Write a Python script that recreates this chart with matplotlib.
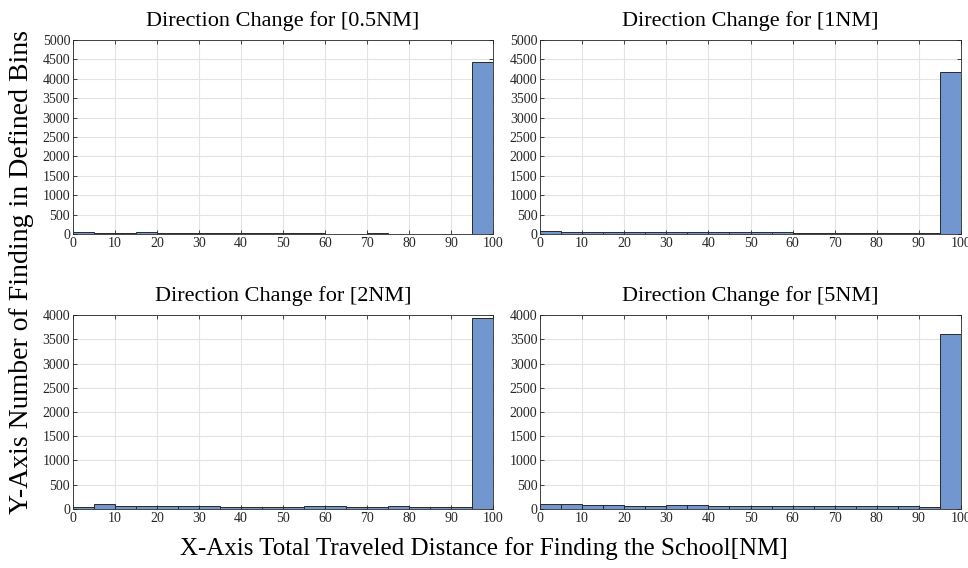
import numpy as np
import matplotlib.pyplot as plt

plt.rcParams['font.family'] = ['Liberation Serif', 'DejaVu Serif']

# histogram bin edges (0..100 NM in 5 NM steps)
edges = np.arange(0, 105, 5)

titles = ['Direction Change for [0.5NM]', 'Direction Change for [1NM]',
          'Direction Change for [2NM]', 'Direction Change for [5NM]']

counts_05 = [50, 30, 25, 45, 30, 20, 20, 20, 25, 25, 20, 15, 10, 10, 15, 10, 10, 10, 10, 4430]
counts_1 = [75, 55, 45, 60, 45, 40, 40, 40, 45, 40, 40, 45, 25, 25, 30, 30, 25, 25, 35, 4180]
counts_2 = [50, 100, 55, 70, 55, 55, 55, 50, 40, 40, 40, 60, 55, 40, 40, 60, 45, 50, 45, 3940]
counts_5 = [100, 95, 80, 80, 70, 65, 80, 75, 65, 65, 65, 65, 65, 65, 65, 65, 65, 65, 50, 3600]

ylims = [5000, 5000, 4000, 4000]

fig = plt.figure(figsize=(9.68, 5.68), dpi=100)
positions = [
    [0.0754, 0.588, 0.4339, 0.3415],
    [0.5579, 0.588, 0.4349, 0.3415],
    [0.0754, 0.1039, 0.4339, 0.3415],
    [0.5579, 0.1039, 0.4349, 0.3415],
]

for pos, title, counts, ymax in zip(positions, titles,
                                     [counts_05, counts_1, counts_2, counts_5], ylims):
    ax = fig.add_axes(pos)
    ax.bar(edges[:-1], counts, width=5, align='edge',
           color='#7196d0', edgecolor='#2a2a2a', linewidth=0.7, zorder=3)
    ax.set_xlim(0, 100)
    ax.set_ylim(0, ymax)
    ax.set_xticks(np.arange(0, 101, 10))
    ax.set_yticks(np.arange(0, ymax + 1, 500))
    ax.grid(True, color='#e3e3e3', linewidth=0.8, zorder=0)
    ax.tick_params(direction='in', top=True, right=True, length=3,
                   labelsize=10, colors='#262626', width=0.6, pad=2)
    for s in ax.spines.values():
        s.set_color('#262626')
        s.set_linewidth(0.6)
    ax.set_title(title, fontsize=16, pad=10)

fig.text(0.5, 0.035, 'X-Axis Total Traveled Distance for Finding the School[NM]',
         ha='center', va='center', fontsize=18)
fig.text(0.022, 0.521, 'Y-Axis Number of Finding in Defined Bins',
         ha='center', va='center', rotation=90, fontsize=20)

fig.savefig('out.png', dpi=100)
